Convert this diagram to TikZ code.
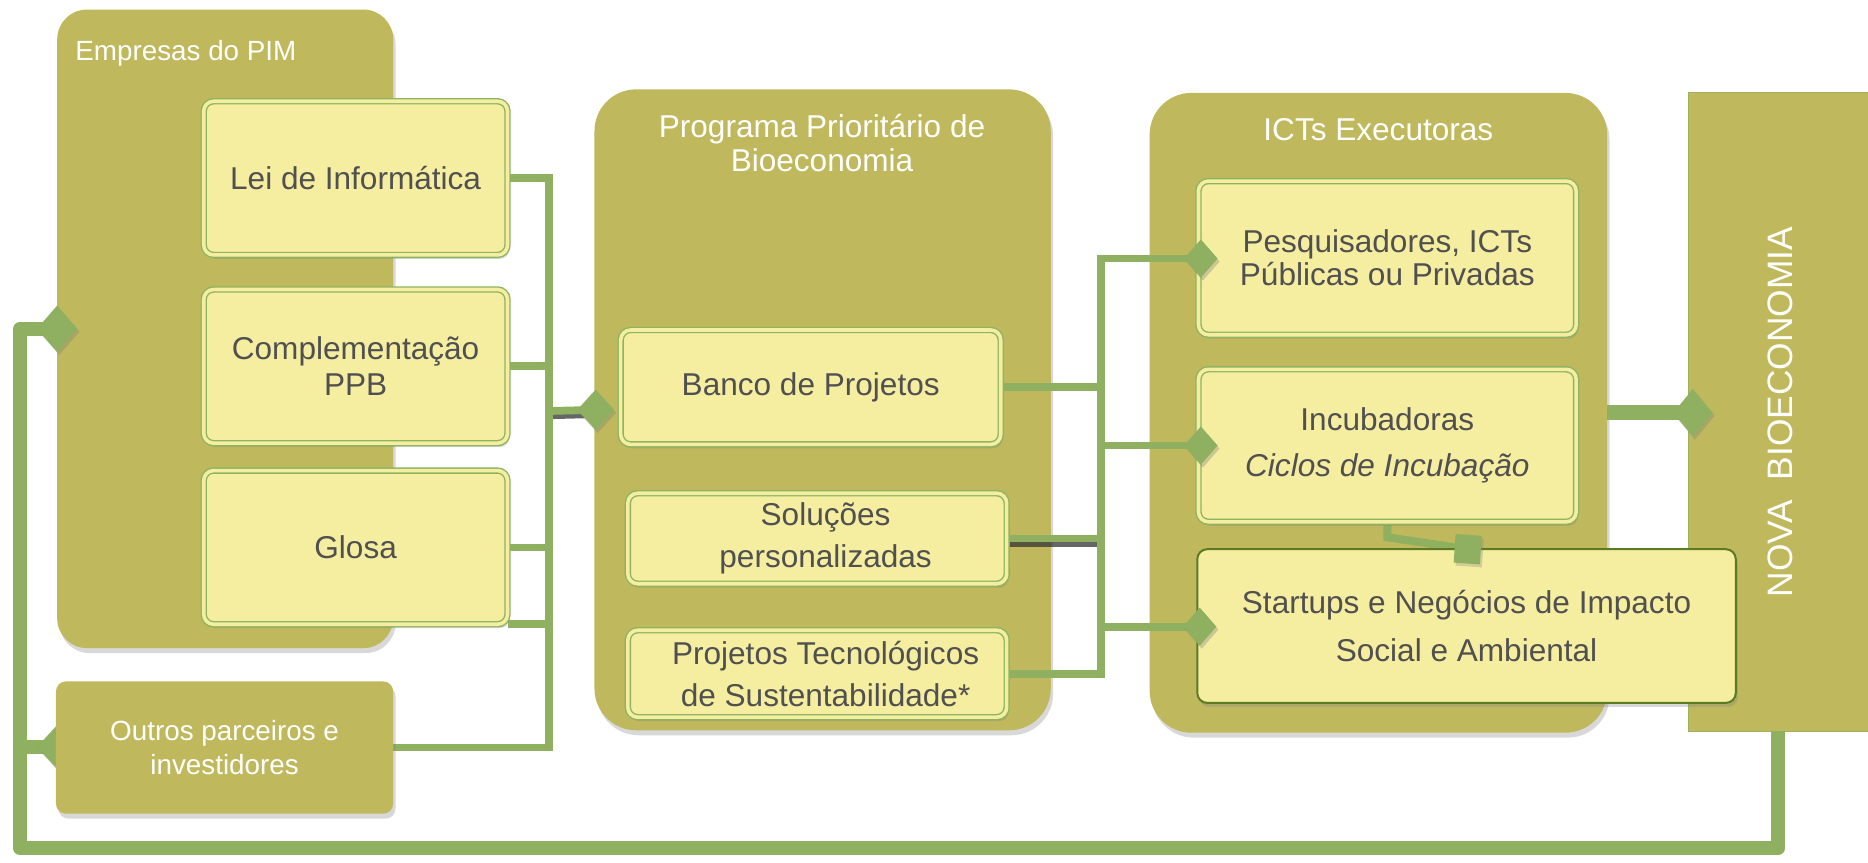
\documentclass[tikz,border=0pt]{standalone}
\usepackage{fontspec}
\setmainfont{Liberation Sans}
\usetikzlibrary{shapes.geometric,shadows,calc}
\definecolor{oliv}{HTML}{BFB85C}
\definecolor{yel}{HTML}{F5EDA0}
\definecolor{lgreen}{HTML}{8FB061}
\definecolor{bgreen}{HTML}{8EB462}
\definecolor{sgreen}{HTML}{5B7A22}
\definecolor{txt}{HTML}{505050}
\pgfdeclarelayer{back}
\pgfdeclarelayer{mid}
\pgfsetlayers{back,mid,main}
\begin{document}
\begin{tikzpicture}[x=0.6pt,y=-0.6pt,
  cont/.style={fill=oliv, inner sep=0, outer sep=0,
    drop shadow={opacity=0.3, shadow xshift=1.2pt, shadow yshift=-2.5pt}},
  ybox/.style={fill=yel, draw=bgreen, double=yel, line width=0.7pt, double distance=1.8pt,
    rounded corners=5pt, inner sep=0, outer sep=0, text=txt, align=center,
    font=\fontsize{15.9}{18}\selectfont,
    drop shadow={opacity=0.3, shadow xshift=1pt, shadow yshift=-2pt}},
  hdr/.style={text=white, align=center, inner sep=0, font=\fontsize{15.9}{16.8}\selectfont},
  dmd/.style={diamond, fill=lgreen, inner sep=0, outer sep=0,
    drop shadow={opacity=0.35, shadow xshift=1pt, shadow yshift=-1.5pt}},
  conn/.style={draw=lgreen, line width=3.9pt},
  fb/.style={draw=lgreen, line width=7.2pt},
  thk/.style={draw=lgreen, line width=7.5pt},
  shad/.style={draw=black!80, line width=3pt, opacity=0.75}
]
\useasboundingbox (0,0) rectangle (1568,724);

\begin{pgfonlayer}{back}
\fill[white] (0,0) rectangle (1568,724);
\node[cont, rounded corners=15pt, minimum width=169.2pt, minimum height=321.6pt] (emp) at (189,276) {};
\node[cont, rounded corners=21pt, minimum width=229.8pt, minimum height=322.8pt] (prog) at (690.5,344) {};
\node[cont, rounded corners=21pt, minimum width=230.4pt, minimum height=322.2pt] (icts) at (1157,346.5) {};
\node[fill=oliv, draw=lgreen!70!oliv, line width=0.5pt, minimum width=90.6pt, minimum height=321.6pt,
  inner sep=0, outer sep=0] (nova) at (1492.5,346) {};
\node[hdr, anchor=west, font=\fontsize{14}{16}\selectfont] (empT) at (63,45) {Empresas do PIM};
\node[hdr] (progT) at (690,120) {Programa Prioritário de\\Bioeconomia};
\node[hdr] (ictT) at (1157,109) {ICTs Executoras};
\node[text=white, inner sep=0, rotate=90, font=\fontsize{17.8}{20}\selectfont] (novaT) at (1494,346) {NOVA\ \ BIOECONOMIA};
\end{pgfonlayer}

% diamonds and boxes (main layer)
\node[dmd, minimum width=22.8pt, minimum height=24.6pt] (outD) at (50,627) {};
\node[cont, fill=oliv, rounded corners=5pt, minimum width=169.8pt, minimum height=66.6pt,
  text=white, align=center, font=\fontsize{14}{17.6}\selectfont] (outros) at (188.5,627.5)
  {Outros parceiros e\\investidores};

\node[ybox, minimum width=153pt, minimum height=77.4pt] (lei) at (298.5,149.5) {Lei de Informática};
\node[ybox, minimum width=153pt, minimum height=77.4pt] (comp) at (298.5,307.5) {Complementação\\PPB};
\node[ybox, minimum width=153pt, minimum height=77.4pt] (glosa) at (298.5,459.5) {Glosa};

\node[ybox, minimum width=191.4pt, minimum height=57.6pt] (banco) at (680.5,325) {Banco de Projetos};
\node[ybox, minimum width=190.8pt, minimum height=45.6pt, font=\fontsize{15.9}{21}\selectfont] (sol) at (686,452)
  {\hspace*{8.4pt}Soluções\\\hspace*{8.4pt}personalizadas};
\node[ybox, minimum width=190.8pt, minimum height=43.8pt, font=\fontsize{15.9}{21}\selectfont] (proj) at (686,565.5)
  {\hspace*{8.4pt}Projetos Tecnológicos\\\hspace*{8.4pt}de Sustentabilidade*};

\node[ybox, minimum width=190.2pt, minimum height=77.4pt, font=\fontsize{15.9}{16.8}\selectfont] (pesq) at (1164.5,216.5)
  {Pesquisadores, ICTs\\Públicas ou Privadas};
\node[ybox, minimum width=190.2pt, minimum height=76.8pt, font=\fontsize{15.9}{23.4}\selectfont] (inc) at (1164.5,374)
  {Incubadoras\\\itshape Ciclos de Incubação};
\node[ybox, draw=sgreen, double=none, line width=1pt, minimum width=271.2pt, minimum height=77.4pt,
  font=\fontsize{15.9}{24}\selectfont] (sta) at (1231,525.5)
  {Startups e Negócios de Impacto\\Social e Ambiental};

\node[dmd, minimum width=20.4pt, minimum height=23.4pt] (empD) at (48,276) {};
\node[dmd, minimum width=18.6pt, minimum height=20.4pt] (bancoD) at (500,344) {};
\node[dmd, minimum width=16.8pt, minimum height=19.2pt] (pesqD) at (1008,217) {};
\node[dmd, minimum width=16.8pt, minimum height=19.2pt] (incD) at (1008,374) {};
\node[dmd, minimum width=16.8pt, minimum height=19.2pt] (staD) at (1007,526) {};
\node[dmd, minimum width=19.8pt, minimum height=24pt] (novaD) at (1421,346.5) {};
\node[fill=lgreen, inner sep=0, outer sep=0, minimum width=13.2pt, minimum height=14.4pt, rotate=-4,
  drop shadow={opacity=0.3, shadow xshift=1pt, shadow yshift=-1.5pt}] (sq) at (1232,461) {};

% connectors (middle layer)
\begin{pgfonlayer}{mid}
\coordinate (bus1) at (461,345);
\coordinate (bus2) at (924,400);
\coordinate (fbl) at (17,712);
% feedback loop
\draw[fb, line join=round] (nova.south) |- (fbl) |- (empD.center);
\draw[fb] (fbl |- outD) -- (outD.center);
% left bus
\draw[shad] ([yshift=-2.6pt]bus1) -- ([yshift=-2.6pt]bancoD.center);
\draw[conn] (lei.east) -| (bus1);
\draw[conn] (comp.east) -| (bus1);
\draw[conn] (glosa.east) -| (bus1);
\draw[conn] (glosa.south east) -| (bus1);
\draw[conn] (outros.east) -| (bus1);
\draw[conn] (bus1) -- (bancoD.center);
% middle bus
\draw[conn] (banco.east) -- (banco.east -| bus2) |- (pesqD.center);
\draw[conn] (banco.east -| bus2) |- (incD.center);
\draw[shad] ([yshift=-2.6pt]sol.east) -- ([yshift=-2.6pt]sol.east -| bus2);
\draw[conn] (sol.east) -- (sol.east -| bus2) |- (incD.center);
\draw[conn] (sol.east -| bus2) |- (staD.center);
\draw[conn] (proj.east) -- (proj.east -| bus2) |- (staD.center);
% to nova
\draw[thk] (icts.east |- novaD) -- (novaD.center);
% incubadoras to startups
\draw[draw=lgreen, line width=4pt] (inc.south) -- ++(0,13) -- (sq.center);
\end{pgfonlayer}
\end{tikzpicture}
\end{document}
